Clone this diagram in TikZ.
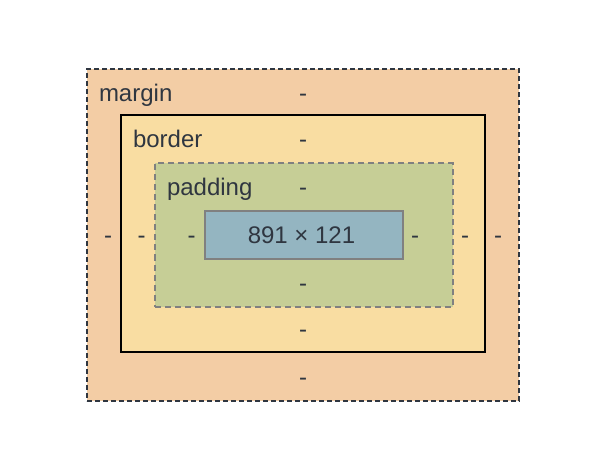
\documentclass[tikz,border=0pt]{standalone}
\usepackage{fontspec}
\setmainfont{Liberation Sans}
\definecolor{marginfill}{HTML}{F3CDA5}
\definecolor{borderfill}{HTML}{F9DDA2}
\definecolor{paddingfill}{HTML}{C6CE96}
\definecolor{contentfill}{HTML}{94B5C1}
\definecolor{txt}{HTML}{2F3640}
\definecolor{midgray}{HTML}{808080}
\begin{document}
\begin{tikzpicture}[x=1pt,y=-1pt,
  box/.style={rectangle, inner sep=0pt, outer sep=0pt},
  lbl/.style={inner sep=0pt, outer sep=0pt, anchor=base west, text=txt, font=\fontsize{24}{24}\selectfont},
  val/.style={inner sep=0pt, outer sep=0pt, anchor=base, text=txt, font=\fontsize{24}{24}\selectfont}]
\useasboundingbox[fill=white] (0,0) rectangle (608,468);
\node[box, fill=marginfill, draw=txt, line width=1.8pt, dash pattern=on 5pt off 3pt,
  minimum width=432pt, minimum height=332pt] (marginbox) at (303,235) {};
\node[box, fill=borderfill, draw=black, line width=2pt,
  minimum width=364pt, minimum height=237pt] (borderbox) at (303,233.5) {};
\node[box, fill=paddingfill, draw=midgray, line width=2pt, dash pattern=on 6pt off 4pt,
  minimum width=298pt, minimum height=143pt] (paddingbox) at (304,235) {};
\node[box, fill=contentfill, draw=midgray, line width=2pt,
  minimum width=198pt, minimum height=48pt] (contentbox) at (303.5,235) {};
% labels
\node[lbl] (mlabel) at (99,101.7) {margin};
\node[lbl] (blabel) at (133,147.3) {border};
\node[lbl] (plabel) at (167,196) {padding};
\node[val] (size) at (301.5,243.5) {891 × 121};
% margin values
\node[val] (mt) at (303,101.5) {-};
\node[val] (mb) at (303,385.5) {-};
\node[val] (ml) at (108,243.5) {-};
\node[val] (mr) at (498,243.5) {-};
% border values
\node[val] (bt) at (303,147.5) {-};
\node[val] (bb) at (303,337.5) {-};
\node[val] (bl) at (141.5,243.5) {-};
\node[val] (br) at (465,243.5) {-};
% padding values
\node[val] (pt) at (303,195.5) {-};
\node[val] (pb) at (303,291.5) {-};
\node[val] (pl) at (191.5,243.5) {-};
\node[val] (pr) at (415,243.5) {-};
\end{tikzpicture}
\end{document}
